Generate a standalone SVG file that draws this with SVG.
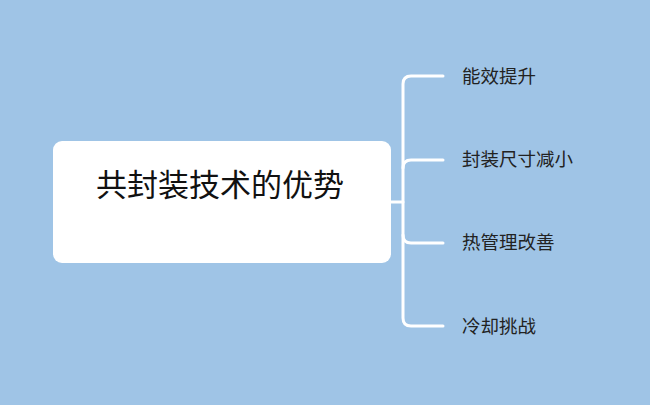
<svg xmlns="http://www.w3.org/2000/svg" width="650" height="405" viewBox="0 0 650 405">
<style>
.conn{fill:none;stroke:#ffffff;stroke-width:3;stroke-linecap:round}
.lbl{font-family:"Noto Sans CJK SC","Noto Sans",sans-serif;font-size:18.5px;fill:#222222}
.title{font-family:"Noto Sans CJK SC","Noto Sans",sans-serif;font-size:31px;fill:#111111}
</style>
<rect x="0" y="0" width="650" height="405" fill="#9fc4e6"/>
<g id="connectors">
<path class="conn" d="M391,202 H403"/>
<path class="conn" d="M443,76 H411 Q403,76 403,84 V318 Q403,326 411,326 H443"/>
<path class="conn" d="M403,168 Q403,160 411,160 H443"/>
<path class="conn" d="M403,235 Q403,243 411,243 H443"/>
</g>
<g id="root">
<rect x="53" y="141" width="338" height="122" rx="9" fill="#ffffff"/>
<text class="title" x="220" y="196" text-anchor="middle">共封装技术的优势</text>
</g>
<g id="n1"><text class="lbl" x="462" y="83">能效提升</text></g>
<g id="n2"><text class="lbl" x="462" y="166">封装尺寸减小</text></g>
<g id="n3"><text class="lbl" x="462" y="249">热管理改善</text></g>
<g id="n4"><text class="lbl" x="462" y="333">冷却挑战</text></g>
</svg>
